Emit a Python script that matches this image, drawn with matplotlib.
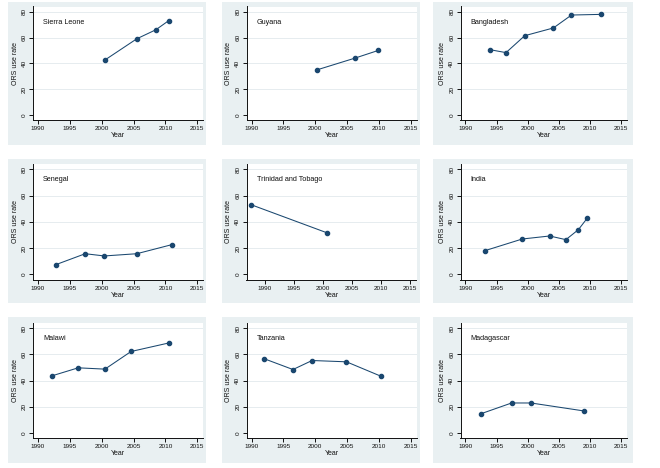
import matplotlib
matplotlib.use("Agg")
import matplotlib.pyplot as plt
from matplotlib.patches import Rectangle
from matplotlib.transforms import blended_transform_factory

plt.rcParams["font.family"] = ["Liberation Sans", "DejaVu Sans"]

countries = ["Sierra Leone", "Guyana", "Bangladesh",
             "Senegal", "Trinidad and Tobago", "India",
             "Malawi", "Tanzania", "Madagascar"]

sierra_leone_years = [2000.5, 2005.5, 2008.5, 2010.5]
sierra_leone_rate = [42.6, 59.0, 66.0, 73.0]
guyana_years = [2000.3, 2006.2, 2009.9]
guyana_rate = [35.0, 44.0, 50.0]
bangladesh_years = [1993.9, 1996.5, 1999.5, 2004.1, 2007.0, 2011.7]
bangladesh_rate = [50.6, 48.3, 61.4, 67.4, 77.4, 77.9]
senegal_years = [1992.8, 1997.4, 2000.4, 2005.5, 2011.0]
senegal_rate = [7.4, 15.7, 14.0, 15.7, 22.6]
trinidad_years = [1987.7, 2000.8]
trinidad_rate = [53.0, 31.5]
india_years = [1993.1, 1999.1, 2003.5, 2006.1, 2008.1, 2009.5]
india_rate = [18.0, 26.9, 29.2, 26.4, 34.0, 42.6]
malawi_years = [1992.2, 1996.3, 2000.5, 2004.6, 2010.6]
malawi_rate = [43.6, 49.7, 48.7, 62.2, 68.8]
tanzania_years = [1991.9, 1996.5, 1999.5, 2004.9, 2010.3]
tanzania_rate = [56.8, 48.4, 55.3, 54.3, 43.3]
madagascar_years = [1992.5, 1997.4, 2000.5, 2009.0]
madagascar_rate = [14.6, 22.8, 22.8, 16.7]

series = [
    (sierra_leone_years, sierra_leone_rate),
    (guyana_years, guyana_rate),
    (bangladesh_years, bangladesh_rate),
    (senegal_years, senegal_rate),
    (trinidad_years, trinidad_rate),
    (india_years, india_rate),
    (malawi_years, malawi_rate),
    (tanzania_years, tanzania_rate),
    (madagascar_years, madagascar_rate),
]

x_ticks = [1990, 1995, 2000, 2005, 2010, 2015]
y_ticks = [0, 20, 40, 60, 80]

W, H = 660, 468
BG = "#e9f0f2"
NAVY = "#1a476f"

# pixel layout of the panels (gray graph region) and plot areas
col_bg = [(8, 206), (222, 420), (433, 633)]
row_bg = [(2, 145), (159, 303), (317, 463)]
col_ax = [(33, 203), (246.5, 416.5), (460.5, 627)]
row_ax = [(6.5, 120.2), (164, 279.6), (323, 438)]


def frac(x0, x1, y0, y1):
    return [x0 / W, 1 - y1 / H, (x1 - x0) / W, (y1 - y0) / H]


fig = plt.figure(figsize=(W / 100, H / 100), dpi=100)

for i, name in enumerate(countries):
    r, c = divmod(i, 3)
    bx0, bx1 = col_bg[c]
    by0, by1 = row_bg[r]
    fig.add_artist(Rectangle((bx0 / W, 1 - by1 / H), (bx1 - bx0) / W, (by1 - by0) / H,
                             transform=fig.transFigure, facecolor=BG, edgecolor="none", zorder=-5))
    ax = fig.add_axes(frac(*col_ax[c], *row_ax[r]))
    ax.set_zorder(1)
    ax.set_facecolor("white")
    xs, ys = series[i]
    ax.plot(xs, ys, color=NAVY, lw=0.75, marker="o", ms=3.0, zorder=3)
    if name == "Trinidad and Tobago":
        ax.set_xlim(1986.9, 2016.1)
    else:
        ax.set_xlim(1989.2, 2015.9)
    ax.set_ylim(-4, 84)
    ax.set_xticks(x_ticks)
    ax.set_yticks(y_ticks)
    for g in y_ticks[1:]:
        ax.axhline(g, color="#e2e9ec", lw=0.6, zorder=1)
    for s in ["top", "right"]:
        ax.spines[s].set_visible(False)
    for s in ["left", "bottom"]:
        ax.spines[s].set_linewidth(0.7)
        ax.spines[s].set_color("#111111")
    ax.tick_params(axis="both", length=3, width=0.7, pad=1.5, labelsize=4.6, colors="#111111")
    for lab in ax.get_yticklabels():
        lab.set_rotation(90)
        lab.set_va("center")
    ax.set_xlabel("Year", fontsize=5, labelpad=0.5, color="#111111")
    ax.set_ylabel("ORS use rate", fontsize=5, labelpad=2, color="#111111")
    tr = blended_transform_factory(ax.transAxes, ax.transData)
    ax.text(0.06, 72, name, transform=tr, fontsize=5.2, va="center", ha="left", color="#111111")

fig.savefig("out.png", dpi=100, facecolor="white")
